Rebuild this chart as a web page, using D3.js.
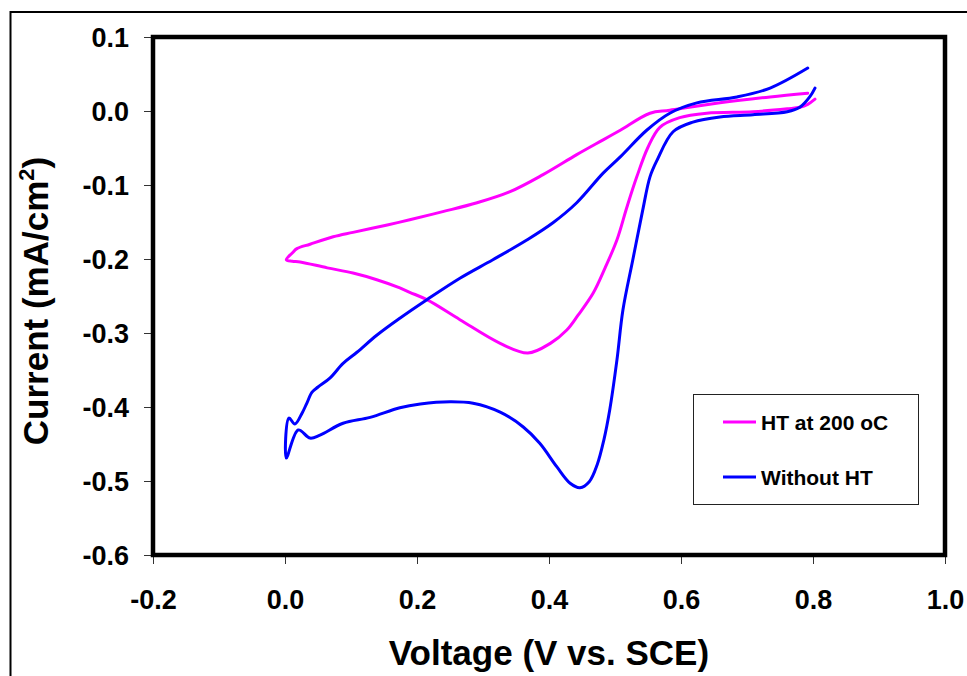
<!DOCTYPE html>
<html>
<head>
<meta charset="utf-8">
<script src="https://cdn.jsdelivr.net/npm/d3@7"></script>
<style>
body{margin:0;background:#fff;}
svg{display:block;font-family:Arial,"Liberation Sans",sans-serif;font-weight:bold;}
</style>
</head>
<body>
<svg width="967" height="676"></svg>
<script>
// tick labels
var xTicks = [-0.2, 0.0, 0.2, 0.4, 0.6, 0.8, 1.0];
var yTicks = [0.1, 0.0, -0.1, -0.2, -0.3, -0.4, -0.5, -0.6];
var seriesNames = ['HT at 200 oC', 'Without HT'];
var seriesColors = ['#ff00ff', '#0000ff'];

// [voltage, current], cathodic sweep then anodic sweep
var htCurve = [
 [0.803,0.016],[0.792,0.009],[0.780,0.005],[0.761,0.003],[0.709,-0.001],[0.639,-0.003],
 [0.598,-0.009],[0.568,-0.022],[0.550,-0.049],[0.533,-0.089],[0.518,-0.130],
 [0.503,-0.174],[0.485,-0.212],[0.467,-0.246],[0.444,-0.276],[0.427,-0.296],[0.402,-0.314],
 [0.368,-0.327],[0.326,-0.314],[0.265,-0.282],[0.215,-0.255],[0.189,-0.245],[0.174,-0.239],
 [0.139,-0.228],[0.103,-0.219],[0.064,-0.212],[0.023,-0.204],[0.011,-0.203],[0.002,-0.201],
 [0.011,-0.192],[0.018,-0.186],[0.038,-0.180],[0.073,-0.170],[0.103,-0.164],[0.155,-0.154],
 [0.189,-0.147],[0.239,-0.136],[0.291,-0.124],[0.341,-0.109],[0.391,-0.086],[0.442,-0.059],
 [0.482,-0.039],[0.508,-0.026],[0.553,-0.003],[0.583,0.001],[0.659,0.011],[0.735,0.019],
 [0.792,0.024]
];
var noHtCurve = [
 [0.803,0.031],[0.795,0.019],[0.780,0.005],[0.761,-0.001],[0.709,-0.005],[0.659,-0.008],
 [0.618,-0.015],[0.588,-0.028],[0.564,-0.066],[0.553,-0.089],[0.542,-0.134],[0.527,-0.201],
 [0.512,-0.269],[0.503,-0.336],[0.492,-0.404],[0.483,-0.445],[0.473,-0.478],[0.461,-0.501],
 [0.447,-0.509],
 [0.432,-0.503],[0.412,-0.481],[0.386,-0.449],[0.361,-0.427],[0.326,-0.407],[0.285,-0.395],
 [0.250,-0.393],[0.205,-0.396],[0.174,-0.401],[0.129,-0.414],[0.088,-0.422],[0.053,-0.438],
 [0.038,-0.442],[0.020,-0.431],[0.002,-0.469],
 [0.006,-0.415],[0.015,-0.423],[0.026,-0.408],[0.033,-0.395],[0.041,-0.380],[0.050,-0.373],
 [0.068,-0.361],[0.088,-0.341],[0.109,-0.326],[0.139,-0.303],[0.174,-0.280],[0.215,-0.255],
 [0.265,-0.226],[0.315,-0.201],[0.367,-0.174],[0.406,-0.151],[0.442,-0.124],[0.482,-0.084],
 [0.508,-0.062],[0.548,-0.026],[0.583,-0.003],[0.624,0.011],[0.685,0.019],[0.735,0.031],
 [0.792,0.058]
];

var svg = d3.select('svg');
var pLeft = 153, pRight = 945, pTop = 37, pBottom = 555;

var x = d3.scaleLinear().domain([-0.2, 1.0]).range([pLeft, pRight]);
var y = d3.scaleLinear().domain([-0.6, 0.1]).range([pBottom, pTop]);

// outer frame
svg.append('path').attr('d','M10.5,676 L10.5,12 L967,12')
  .attr('fill','none').attr('stroke','#000').attr('stroke-width',2);

var fmt = function(d){ return d.toFixed(1); };

var gx = svg.append('g').attr('transform','translate(0,'+pBottom+')')
  .call(d3.axisBottom(x).tickValues(xTicks).tickFormat(fmt).tickSize(9).tickPadding(26));
var gy = svg.append('g').attr('transform','translate('+pLeft+',0)')
  .call(d3.axisLeft(y).tickValues(yTicks).tickFormat(fmt).tickSize(9).tickPadding(15));
[gx, gy].forEach(function(g){
  g.select('.domain').remove();
  g.selectAll('.tick line').attr('stroke','#333').attr('stroke-width',1);
  g.selectAll('.tick text').attr('fill','#000').style('font-size','27px')
    .style('font-family','Arial,"Liberation Sans",sans-serif').style('font-weight','bold');
});
gy.selectAll('.tick text').attr('dy','0.36em');
gx.selectAll('.tick text').attr('dy','0.71em');

// curves
var line = d3.line().x(function(d){return x(d[0]);}).y(function(d){return y(d[1]);})
  .curve(d3.curveCatmullRom.alpha(0.5));
[htCurve, noHtCurve].forEach(function(c, i){
  svg.append('path').datum(c).attr('d', line).attr('fill','none')
    .attr('stroke', seriesColors[i]).attr('stroke-width',3)
    .attr('stroke-linejoin','round').attr('stroke-linecap','round');
});

// plot frame
svg.append('rect').attr('x',pLeft).attr('y',pTop).attr('width',pRight-pLeft).attr('height',pBottom-pTop)
  .attr('fill','none').attr('stroke','#000').attr('stroke-width',4.5);

// legend
var lg = svg.append('g');
lg.append('rect').attr('x',693.5).attr('y',394.5).attr('width',225).attr('height',110)
  .attr('fill','#fff').attr('stroke','#222').attr('stroke-width',1);
seriesNames.forEach(function(n, i){
  var ly = 422 + i*55;
  lg.append('line').attr('x1',723).attr('x2',756).attr('y1',ly).attr('y2',ly)
    .attr('stroke',seriesColors[i]).attr('stroke-width',3);
  lg.append('text').attr('x',761).attr('y',ly+8).style('font-size','21px').text(n);
});

// axis titles
svg.append('text').attr('x',(pLeft+pRight)/2).attr('y',665).attr('text-anchor','middle')
  .style('font-size','35px').text('Voltage (V vs. SCE)');
var yt = svg.append('text').attr('transform','translate(48,301) rotate(-90)')
  .attr('text-anchor','middle').style('font-size','35px');
yt.append('tspan').text('Current (mA/cm');
yt.append('tspan').attr('dy',-14).style('font-size','22px').text('2');
yt.append('tspan').attr('dy',14).text(')');
</script>
</body>
</html>
